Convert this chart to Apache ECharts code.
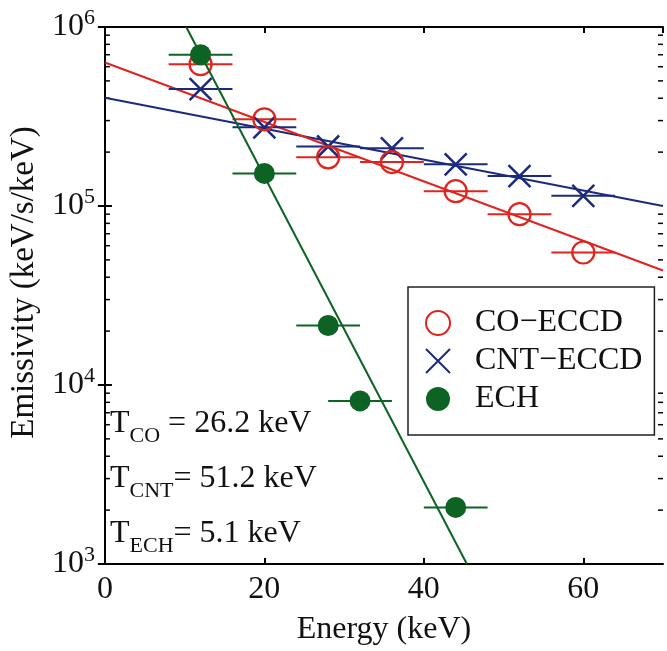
<!DOCTYPE html>
<html>
<head>
<meta charset="utf-8">
<script src="https://cdn.jsdelivr.net/npm/echarts@6/dist/echarts.min.js"></script>
<style>
  html, body { margin: 0; padding: 0; background: #fff; }
  #chart { width: 667px; height: 651px; }
</style>
</head>
<body>
<div id="chart"></div>
<script>
// Measured X-ray emissivity spectra (keV/s/keV) per energy bin
const energy = [12, 20, 28, 36, 44, 52, 60];
const coEccd = [6.2e5, 3.05e5, 1.87e5, 1.76e5, 1.21e5, 9.0e4, 5.5e4];
const cntEccd = [4.5e5, 2.75e5, 2.15e5, 2.1e5, 1.71e5, 1.47e5, 1.14e5];
const echEnergy = [12, 20, 28, 32, 44];
const ech = [7.0e5, 1.52e5, 2.15e4, 8.15e3, 2.07e3];
// Half width of each energy bin (keV)
const binHalfWidth = 4;

// Exponential fits (end points of each straight line on the log axis)
const fitEnergy = [0, 70];
const coFit = [6.33e5, 4.36e4];
const cntFit = [4.03e5, 1.0e5];
const echFitEnergy = [10.2, 45.4];
const echFit = [1.0e6, 1.0e3];

// Fitted temperatures
const temperatures = [
  { sub: 'CO', text: ' = 26.2 keV' },
  { sub: 'CNT', text: '= 51.2 keV' },
  { sub: 'ECH', text: '= 5.1 keV' }
];

// Axis settings
const xTicks = [0, 20, 40, 60];
const xRange = [0, 70];
const yRange = [1e3, 1e6];

const RED = '#e2231d';
const BLUE = '#1b2a7c';
const GREEN = '#0c6324';
const FONT = '"Liberation Serif", "Times New Roman", serif';
const NAMES = ['CO\u2212ECCD', 'CNT\u2212ECCD', 'ECH'];

const pairs = (xs, ys) => xs.map((x, i) => [x, ys[i]]);

function errorBars(name, xs, ys, color, z) {
  return {
    name: name + ' bins',
    type: 'custom',
    z: z,
    data: pairs(xs, ys),
    encode: { x: 0, y: 1 },
    renderItem: function (params, api) {
      const x = api.value(0), y = api.value(1);
      const a = api.coord([x - binHalfWidth, y]);
      const b = api.coord([x + binHalfWidth, y]);
      return {
        type: 'line',
        shape: { x1: a[0], y1: a[1], x2: b[0], y2: b[1] },
        style: { stroke: color, lineWidth: 2 }
      };
    }
  };
}

function fitLine(name, xs, ys, color, z) {
  return {
    name: name + ' fit',
    type: 'line',
    z: z,
    data: pairs(xs, ys),
    symbol: 'none',
    lineStyle: { color: color, width: 2 },
    silent: true
  };
}

// Minor ticks of the log axis (2..9 within each decade), drawn on both spines
const minorTickValues = [];
for (let d = Math.log10(yRange[0]); d < Math.log10(yRange[1]); d++) {
  for (let m = 2; m <= 9; m++) minorTickValues.push([xRange[0], m * Math.pow(10, d)]);
}

const chart = echarts.init(document.getElementById('chart'));

const axisLineStyle = { show: true, lineStyle: { color: '#000', width: 2 } };

chart.setOption({
  animation: false,
  backgroundColor: '#fff',
  textStyle: { fontFamily: FONT },
  grid: { left: 103, right: 4, top: 27, bottom: 84 },
  legend: {
    orient: 'vertical',
    left: 408,
    top: 287,
    padding: [20, 12, 20, 17],
    itemGap: 6,
    itemWidth: 24,
    itemHeight: 24,
    borderColor: '#222',
    borderWidth: 1.5,
    backgroundColor: '#fff',
    selectedMode: false,
    textStyle: { fontFamily: FONT, fontSize: 32, color: '#111', padding: [0, 0, 0, 20] },
    data: NAMES
  },
  xAxis: [
    {
      type: 'value',
      min: xRange[0],
      max: xRange[1],
      interval: 20,
      name: 'Energy (keV)',
      nameLocation: 'middle',
      nameGap: 50,
      nameTextStyle: { fontFamily: FONT, fontSize: 32, color: '#111' },
      axisLine: axisLineStyle,
      axisTick: { show: true, inside: true, length: 6, lineStyle: { color: '#000', width: 2 } },
      axisLabel: {
        fontFamily: FONT, fontSize: 32, color: '#111', margin: 10,
        showMaxLabel: false,
        formatter: v => (xTicks.indexOf(v) >= 0 ? String(v) : '')
      },
      splitLine: { show: false }
    },
    {
      type: 'value',
      position: 'top',
      min: xRange[0],
      max: xRange[1],
      interval: 20,
      axisLine: axisLineStyle,
      axisTick: { show: true, inside: true, length: 6, lineStyle: { color: '#000', width: 2 } },
      axisLabel: { show: false },
      splitLine: { show: false }
    }
  ],
  yAxis: [
    {
      type: 'log',
      logBase: 10,
      min: yRange[0],
      max: yRange[1],
      name: 'Emissivity (keV/s/keV)',
      nameLocation: 'middle',
      nameGap: 60,
      nameTextStyle: { fontFamily: FONT, fontSize: 33, color: '#111', padding: [0, 0, 0, 26] },
      axisLine: axisLineStyle,
      axisTick: { show: true, inside: true, length: 7, lineStyle: { color: '#000', width: 2 } },
      axisLabel: {
        margin: 10,
        color: '#111',
        formatter: v => '{b|10}{s|' + Math.round(Math.log10(v)) + '}',
        rich: {
          b: { fontFamily: FONT, fontSize: 32, color: '#111' },
          s: { fontFamily: FONT, fontSize: 22, color: '#111', padding: [0, 0, 18, 0] }
        }
      },
      splitLine: { show: false },
      minorTick: { show: false }
    },
    {
      type: 'log',
      logBase: 10,
      position: 'right',
      min: yRange[0],
      max: yRange[1],
      axisLine: axisLineStyle,
      axisTick: { show: true, inside: true, length: 7, lineStyle: { color: '#000', width: 2 } },
      axisLabel: { show: false },
      splitLine: { show: false }
    }
  ],
  graphic: temperatures.map((t, i) => ({
    type: 'text',
    left: 110,
    top: 408 + i * 55,
    z: 10,
    style: {
      text: '{t|T}{u|' + t.sub + '}{t|' + t.text + '}',
      rich: {
        t: { fontFamily: FONT, fontSize: 32, fill: '#111' },
        u: { fontFamily: FONT, fontSize: 22, fill: '#111', padding: [24, 0, 0, 0] }
      }
    }
  })),
  series: [
    {
      name: 'minor ticks',
      type: 'custom',
      z: 1,
      silent: true,
      clip: false,
      data: minorTickValues,
      encode: { x: 0, y: 1 },
      renderItem: function (params, api) {
        const l = api.coord([xRange[0], api.value(1)]);
        const r = api.coord([xRange[1], api.value(1)]);
        return {
          type: 'group',
          children: [
            { type: 'line', shape: { x1: l[0], y1: l[1], x2: l[0] + 5, y2: l[1] }, style: { stroke: '#000', lineWidth: 1.5 } },
            { type: 'line', shape: { x1: r[0], y1: r[1], x2: r[0] - 5, y2: r[1] }, style: { stroke: '#000', lineWidth: 1.5 } }
          ]
        };
      }
    },
    fitLine(NAMES[1], fitEnergy, cntFit, BLUE, 3),
    fitLine(NAMES[0], fitEnergy, coFit, RED, 3),
    errorBars(NAMES[1], energy, cntEccd, BLUE, 4),
    errorBars(NAMES[0], energy, coEccd, RED, 4),
    {
      name: NAMES[1],
      type: 'scatter',
      z: 5,
      data: pairs(energy, cntEccd),
      symbol: 'path://M0,0L10,10M10,0L0,10',
      symbolSize: 22,
      itemStyle: { color: 'rgba(0,0,0,0)', borderColor: BLUE, borderWidth: 2.5, opacity: 1 }
    },
    {
      name: NAMES[0],
      type: 'scatter',
      z: 5,
      data: pairs(energy, coEccd),
      symbol: 'circle',
      symbolSize: 22,
      itemStyle: { color: 'rgba(0,0,0,0)', borderColor: RED, borderWidth: 2.2, opacity: 1 }
    },
    fitLine(NAMES[2], echFitEnergy, echFit, GREEN, 6),
    errorBars(NAMES[2], echEnergy, ech, GREEN, 6),
    {
      name: NAMES[2],
      type: 'scatter',
      z: 7,
      data: pairs(echEnergy, ech),
      symbol: 'circle',
      symbolSize: 21,
      itemStyle: { color: GREEN, opacity: 1 }
    }
  ]
});
</script>
</body>
</html>
